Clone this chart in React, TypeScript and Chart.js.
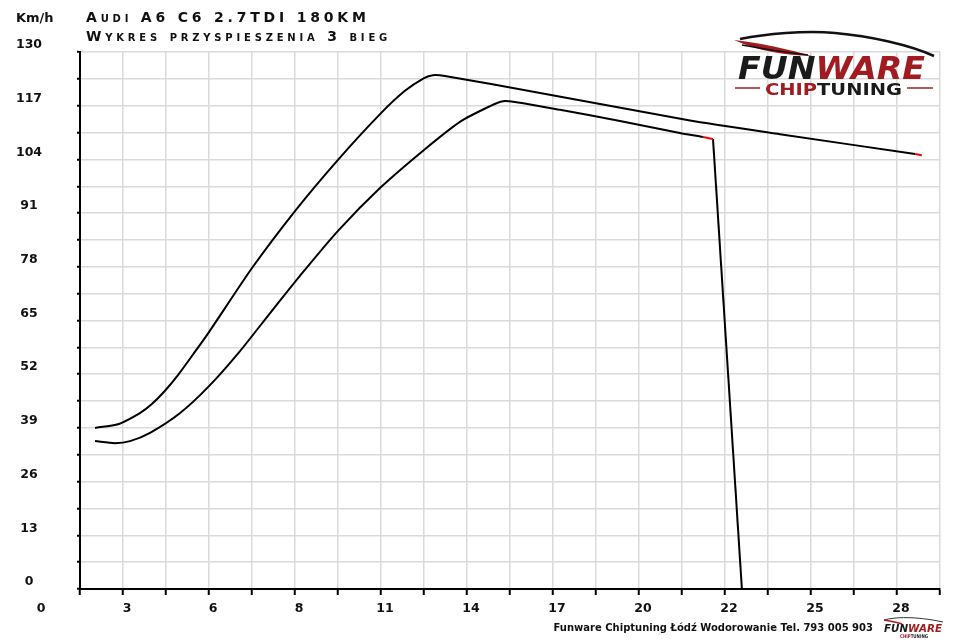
import React, { useEffect, useRef } from 'react';
import { Chart, registerables } from 'chart.js';

Chart.register(...registerables);

// ---- data (time in s, speed in km/h) ----
const TIME_TUNED = [0.49, 1.24, 1.95, 2.34, 2.73, 3.19, 3.74, 4.2, 5.6, 7.0, 8.4, 9.8, 10.58, 11.2, 11.49, 11.88, 14.98, 19.86, 22.79, 27.19, 27.41];
const SPEED_TUNED = [39.0, 39.9, 42.6, 44.8, 47.7, 51.8, 57.4, 62.2, 77.7, 91.5, 103.9, 115.2, 120.6, 123.7, 124.4, 124.2, 120.1, 113.4, 110.1, 105.3, 105.0];

const TIME_STOCK = [0.49, 1.14, 1.63, 2.28, 3.26, 4.2, 5.21, 6.19, 7.16, 8.4, 9.8, 11.2, 12.37, 13.35, 13.77, 14.16, 15.63, 17.58, 19.53, 20.28, 20.61];
const SPEED_STOCK = [35.8, 35.3, 35.8, 37.8, 42.6, 49.1, 57.6, 66.8, 75.8, 86.7, 97.3, 106.3, 113.1, 116.9, 118.1, 117.9, 116.0, 113.3, 110.4, 109.4, 108.9];

// drop after the stock run ends
const TIME_DROP = [20.61, 21.55];
const SPEED_DROP = [108.9, 0];

// end-of-run markers (drawn red): [from, to] in seconds
const RED_TUNED = [27.19, 27.41];
const RED_STOCK = [20.28, 20.61];

const X_TICK_VALUES = [0, 2.8, 5.6, 8.4, 11.2, 14, 16.8, 19.6, 22.4, 25.2, 28];
const X_TICK_LABELS = ['0', '3', '6', '8', '11', '14', '17', '20', '22', '25', '28'];
const Y_TICK_VALUES = [0, 13, 26, 39, 52, 65, 78, 91, 104, 117, 130];
const Y_TICK_LABELS = ['0', '13', '26', '39', '52', '65', '78', '91', '104', '117', '130'];

const X_MAX = 28;
const Y_MAX = 130;

const TITLE_1 = 'Audi A6 C6 2.7TDI 180KM';
const TITLE_2 = 'Wykres przyspieszenia 3 bieg';
const Y_UNIT = 'Km/h';
const FOOTER = 'Funware Chiptuning Łódź Wodorowanie Tel. 793 005 903';

const LOGO_RED = '#a01c21';
const LABEL_FONT = 'bold 12.5px "DejaVu Sans", Verdana, sans-serif';

function pts(xs: number[], ys: number[]) {
  return xs.map((x, i) => ({ x, y: ys[i] }));
}

const axisLabelPlugin = {
  id: 'axisLabels',
  afterDraw(chart: any) {
    const { ctx } = chart;
    const xs = chart.scales.x;
    const ys = chart.scales.y;
    ctx.save();
    ctx.font = LABEL_FONT;
    ctx.fillStyle = '#111';
    ctx.textAlign = 'center';
    ctx.textBaseline = 'middle';
    X_TICK_VALUES.forEach((v, i) => {
      ctx.fillText(X_TICK_LABELS[i], xs.getPixelForValue(v) - 39, 609);
    });
    Y_TICK_VALUES.forEach((v, i) => {
      ctx.fillText(Y_TICK_LABELS[i], 29, ys.getPixelForValue(v) - 7);
    });
    ctx.restore();
  },
};

function redSegment(range: number[]) {
  return (c: any) =>
    c.p0.parsed.x >= range[0] - 1e-6 && c.p1.parsed.x <= range[1] + 1e-6 ? '#ff0000' : undefined;
}

function ChartCanvas() {
  const ref = useRef<HTMLCanvasElement | null>(null);
  useEffect(() => {
    if (!ref.current) return;
    const chart = new Chart(ref.current, {
      type: 'line',
      data: {
        datasets: [
          {
            data: pts(TIME_TUNED, SPEED_TUNED),
            borderColor: '#000',
            borderWidth: 2,
            pointRadius: 0,
            tension: 0.2,
            segment: { borderColor: redSegment(RED_TUNED) },
          },
          {
            data: pts(TIME_STOCK, SPEED_STOCK),
            borderColor: '#000',
            borderWidth: 2,
            pointRadius: 0,
            tension: 0.25,
            segment: { borderColor: redSegment(RED_STOCK) },
          },
          {
            data: pts(TIME_DROP, SPEED_DROP),
            borderColor: '#000',
            borderWidth: 2,
            pointRadius: 0,
            tension: 0,
          },
        ],
      },
      options: {
        responsive: false,
        animation: false,
        devicePixelRatio: 1,
        layout: { padding: { top: 52, right: 20, left: 0, bottom: 0 } },
        plugins: { legend: { display: false }, tooltip: { enabled: false }, title: { display: false } },
        scales: {
          x: {
            type: 'linear',
            min: 0,
            max: X_MAX,
            ticks: { count: 21, display: false },
            grid: { color: '#dadada', lineWidth: 1.5, tickColor: '#000', tickLength: 6, tickWidth: 2 },
            border: { display: true, color: '#000', width: 2 },
            afterFit: (s: any) => { s.height = 54; },
          },
          y: {
            type: 'linear',
            min: 0,
            max: Y_MAX,
            ticks: { count: 21, display: false },
            grid: { color: '#dadada', lineWidth: 1.5, tickColor: '#000', tickLength: 3, tickWidth: 2 },
            border: { display: true, color: '#000', width: 2 },
            afterFit: (s: any) => { s.width = 80; },
          },
        },
      } as any,
      plugins: [axisLabelPlugin],
    });
    return () => chart.destroy();
  }, []);
  return <canvas ref={ref} width={960} height={643} style={{ position: 'absolute', left: 0, top: 0 }} />;
}

function BigLogo() {
  return (
    <svg width={215} height={72} style={{ position: 'absolute', left: 720, top: 30 }}>
      <path d="M 14 10 C 40 13, 68 19, 92 26 C 64 25, 38 21, 14 10 Z" fill={LOGO_RED} />
      <path d="M 22 15 C 48 20, 70 23, 88 25" stroke="#111" strokeWidth={1.5} fill="none" />
      <path d="M 20 9 C 45 4, 85 0, 115 3 C 150 6, 190 15, 214 26" stroke="#111" strokeWidth={2.5} fill="none" />
      <text x={18} y={49} fontFamily='"DejaVu Sans", sans-serif' fontWeight="bold" fontStyle="italic" fontSize={32} textLength={187} lengthAdjust="spacingAndGlyphs">
        <tspan fill="#1a1a1a">FUN</tspan><tspan fill={LOGO_RED}>WARE</tspan>
      </text>
      <line x1={15} y1={58} x2={40} y2={58} stroke={LOGO_RED} strokeWidth={1.5} />
      <line x1={187} y1={58} x2={213} y2={58} stroke={LOGO_RED} strokeWidth={1.5} />
      <text x={45} y={65} fontFamily='"DejaVu Sans", sans-serif' fontWeight="bold" fontSize={15.5} textLength={137} lengthAdjust="spacingAndGlyphs">
        <tspan fill={LOGO_RED}>CHIP</tspan><tspan fill="#1a1a1a">TUNING</tspan>
      </text>
    </svg>
  );
}

function SmallLogo() {
  return (
    <svg width={66} height={24} style={{ position: 'absolute', left: 880, top: 616 }}>
      <path d="M 4 4 C 15 1, 35 0, 63 6" stroke="#333" strokeWidth={1} fill="none" />
      <path d="M 4 4 C 10 5, 16 6, 22 8" stroke={LOGO_RED} strokeWidth={1.5} fill="none" />
      <text x={4} y={16} fontFamily='"DejaVu Sans", sans-serif' fontWeight="bold" fontStyle="italic" fontSize={11} textLength={58} lengthAdjust="spacingAndGlyphs">
        <tspan fill="#1a1a1a">FUN</tspan><tspan fill={LOGO_RED}>WARE</tspan>
      </text>
      <text x={20} y={22} fontFamily='"DejaVu Sans", sans-serif' fontWeight="bold" fontSize={5} textLength={28} lengthAdjust="spacingAndGlyphs">
        <tspan fill={LOGO_RED}>CHIP</tspan><tspan fill="#1a1a1a">TUNING</tspan>
      </text>
    </svg>
  );
}

export default function App() {
  const titleStyle: React.CSSProperties = {
    position: 'absolute',
    left: 86,
    fontFamily: '"DejaVu Sans", sans-serif',
    fontVariant: 'small-caps',
    fontWeight: 'bold',
    fontSize: 14,
    letterSpacing: 3.8,
    color: '#111',
    whiteSpace: 'nowrap',
    lineHeight: '16px',
  };
  return (
    <div style={{ position: 'absolute', left: 0, top: 0, width: 960, height: 643, background: '#fff', overflow: 'hidden' }}>
      <ChartCanvas />
      <div style={{ position: 'absolute', left: 16, top: 10, font: LABEL_FONT, fontSize: 13, color: '#111', lineHeight: '16px' }}>{Y_UNIT}</div>
      <div style={{ ...titleStyle, top: 9 }}>{TITLE_1}</div>
      <div style={{ ...titleStyle, top: 28 }}>{TITLE_2}</div>
      <BigLogo />
      <div style={{ position: 'absolute', right: 87, top: 621, fontFamily: '"DejaVu Sans", sans-serif', fontWeight: 'bold', fontSize: 10, color: '#111', lineHeight: '14px', whiteSpace: 'nowrap' }}>{FOOTER}</div>
      <SmallLogo />
    </div>
  );
}
